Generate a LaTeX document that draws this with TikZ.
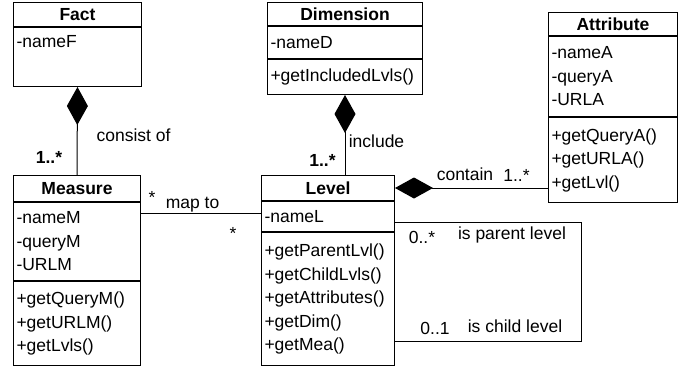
\documentclass[tikz,border=0pt]{standalone}
\usepackage{fontspec}
\setmainfont{Liberation Sans}
\usetikzlibrary{positioning,arrows.meta}

\tikzset{
  umlpart/.style={draw, line width=1pt, text width=#1, inner xsep=3pt, inner ysep=1pt,
    align=left, font=\fontsize{17.5}{23.5}\selectfont},
  umlhead/.style={umlpart=#1, align=center, anchor=north west,
    font=\bfseries\fontsize{17.5}{23.5}\selectfont},
  lbl/.style={anchor=base, inner sep=0pt, font=\fontsize{17.5}{21}\selectfont},
  boldlbl/.style={lbl, font=\bfseries\fontsize{17.5}{21}\selectfont},
  comp/.style={line width=1pt, -{Diamond[length=38pt, width=21pt]}},
  assoc/.style={line width=1pt}
}

\begin{document}
\begin{tikzpicture}[x=1pt, y=-1pt]
  \useasboundingbox (0,0) rectangle (699,367);
  % Define nodes
  \node[umlhead=122pt, minimum height=24pt] (fact) at (13,2) {Fact};
  \node[umlpart=122pt, minimum height=59pt, below=0pt of fact] (fact-att) {-nameF\\\strut};

  \node[umlhead=121pt, minimum height=26pt] (mea) at (13,175) {Measure};
  \node[umlpart=121pt, minimum height=78pt, below=0pt of mea] (mea-att) {-nameM\\-queryM\\-URLM};
  \node[umlpart=121pt, minimum height=84pt, below=0pt of mea-att] (mea-op) {+getQueryM()\\+getURLM()\\+getLvls()};

  \node[umlhead=149pt, minimum height=23pt] (dim) at (267,2) {Dimension};
  \node[umlpart=149pt, minimum height=32pt, below=0pt of dim] (dim-att) {-nameD};
  \node[umlpart=149pt, minimum height=35pt, below=0pt of dim-att] (dim-op) {+getIncludedLvls()};

  \node[umlhead=127pt, minimum height=25pt] (lvl) at (261,175) {Level};
  \node[umlpart=127pt, minimum height=30pt, below=0pt of lvl] (lvl-att) {-nameL};
  \node[umlpart=127pt, minimum height=133pt, below=0pt of lvl-att] (lvl-op)
    {+getParentLvl()\\+getChildLvls()\\+getAttributes()\\+getDim()\\+getMea()};

  \node[umlhead=123pt, minimum height=23pt] (att) at (548,12) {Attribute};
  \node[umlpart=123pt, minimum height=80pt, below=0pt of att] (att-att) {-nameA\\-queryA\\-URLA};
  \node[umlpart=123pt, minimum height=85pt, below=0pt of att-att] (att-op) {+getQueryA()\\+getURLA()\\+getLvl()};

  \coordinate (loop) at (581,341);

  % Connect the nodes
  \draw[comp] (mea.north) -- (fact-att.south);
  \draw[comp] (dim-op.south |- lvl.north) -- (dim-op.south);
  \draw[comp] (lvl.east -| att-op.west) -- (lvl.east);
  \draw[assoc] ([yshift=-11pt]mea-att.north east) -- ([yshift=-11pt]mea-att.north east -| lvl-att.west);
  \draw[assoc] ([yshift=-21pt]lvl-att.north east) -| (loop) -- (loop -| lvl-op.east);

  % Labels
  \node[lbl] (consistlbl) at (133.5,141) {consist of};
  \node[boldlbl] (factmult) at (49,163) {1..*};
  \node[lbl] (mapstar1) at (152,203) {*};
  \node[lbl] (maptolbl) at (192.5,208) {map to};
  \node[lbl] (mapstar2) at (233,239) {*};
  \node[lbl] (includelbl) at (376.5,147) {include};
  \node[boldlbl] (dimmult) at (322.5,166) {1..*};
  \node[lbl] (containlbl) at (465,180) {contain};
  \node[lbl] (attmult) at (516.5,181) {1..*};
  \node[lbl] (parentmult) at (422,243) {0..*};
  \node[lbl] (parentlbl) at (512,239) {is parent level};
  \node[lbl] (childmult) at (435,334) {0..1};
  \node[lbl] (childlbl) at (515,332) {is child level};
\end{tikzpicture}
\end{document}
